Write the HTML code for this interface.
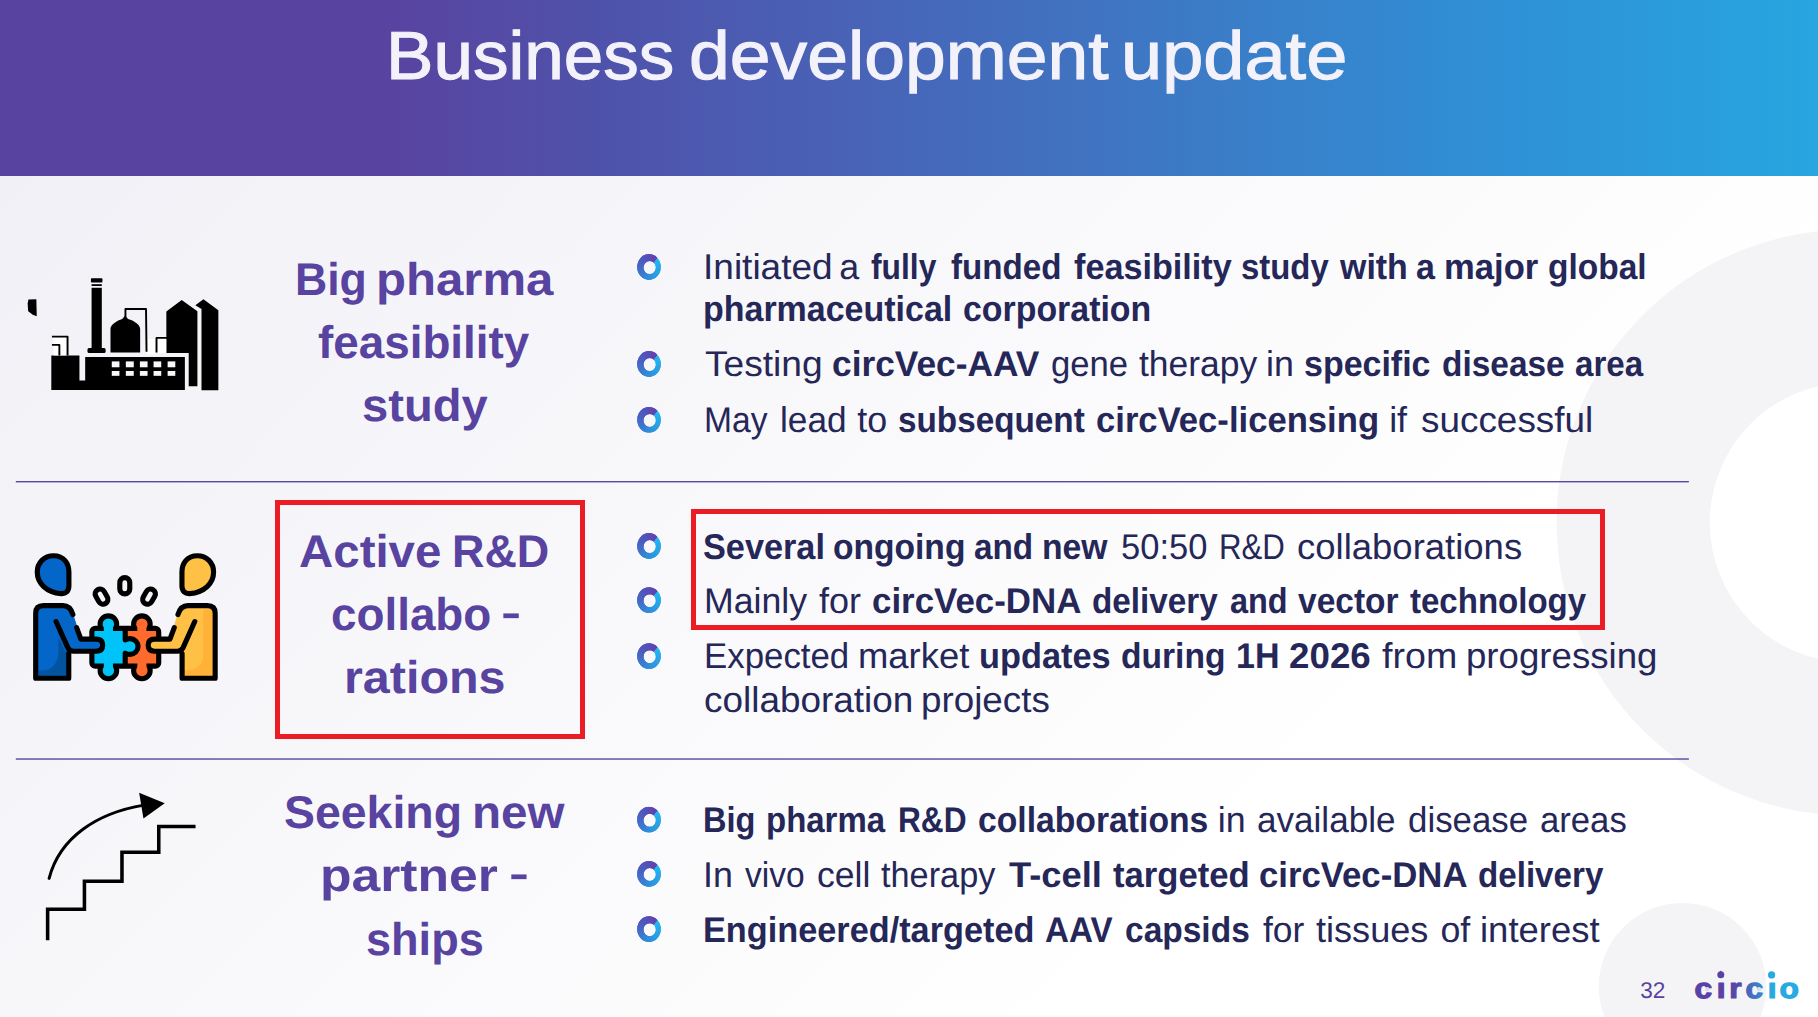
<!DOCTYPE html>
<html lang="en">
<head>
<meta charset="utf-8">
<title>Business development update</title>
<style>
*{box-sizing:border-box;margin:0;padding:0}
html,body{width:1818px;height:1017px;overflow:hidden}
body{position:relative;font-family:"Liberation Sans",sans-serif;text-rendering:geometricPrecision;color:#252758;
 background:linear-gradient(135deg,#f1f0f6 6%,#fcfcfd 60%,#fff 74%)}
.deco{position:absolute;left:0;top:0;width:1818px;height:1017px;pointer-events:none}
header{position:absolute;left:0;top:0;width:1818px;height:176px;
 background:linear-gradient(90deg,#5943a0 0%,#5943a0 21%,#4f52aa 33%,#4766b9 49.5%,#3c7bc6 66%,#2f90d6 82.5%,#27a6e0 100%)}
.t{position:absolute;white-space:pre;transform-origin:0 0;font-weight:400;font-size:68px;line-height:1;color:#f3f1fa;-webkit-text-stroke:1.1px #f3f1fa}
.r{position:absolute;white-space:pre;transform-origin:0 0;font-size:35.8px;line-height:1}
span.r{font-weight:400}
b.r{font-weight:700}
.h{position:absolute;white-space:pre;transform-origin:0 0;font-size:45.8px;line-height:1;font-weight:700;color:#5843a0}
h1,h2{font-size:inherit;font-weight:inherit}
ul{list-style:none}
.box{position:absolute;border:5px solid #ec1c24}
.pg{position:absolute;left:1640.2px;top:979.8px;font-size:22.6px;line-height:1;color:#5843a0}
.logo{position:absolute;left:1690px;top:960px;width:120px;height:50px}
svg{position:absolute;overflow:visible}
</style>
</head>
<body>
<svg class="deco" viewBox="0 0 1818 1017" aria-hidden="true">
 <defs>
  <clipPath id="bc"><path clip-rule="evenodd" d="M-11.8,0 a11.8,12.9 0 1 0 23.6,0 a11.8,12.9 0 1 0 -23.6,0 Z M-5.5,0.6 a6.2,6.5 0 1 0 12.4,0 a6.2,6.5 0 1 0 -12.4,0 Z"/></clipPath>
  <g id="bl"><g clip-path="url(#bc)"><path d="M0.7,0.6L0.70,-23.40L4.25,-23.14L7.72,-22.35Z" fill="#5a4ab4"/><path d="M0.7,0.6L4.04,-23.17L7.52,-22.41L10.84,-21.15Z" fill="#5d48b3"/><path d="M0.7,0.6L7.32,-22.47L10.65,-21.24L13.77,-19.53Z" fill="#6045b2"/><path d="M0.7,0.6L10.46,-21.33L13.60,-19.64L16.45,-17.51Z" fill="#6343b1"/><path d="M0.7,0.6L13.42,-19.75L14.72,-18.88L15.97,-17.92Z" fill="#6641b0"/><path d="M0.7,0.6L15.97,-17.92L18.43,-15.57L20.55,-12.90Z" fill="#1fb7f4"/><path d="M0.7,0.6L18.19,-15.83L20.34,-13.19L22.10,-10.27Z" fill="#21b5f2"/><path d="M0.7,0.6L20.13,-13.48L21.93,-10.59L23.30,-7.47Z" fill="#22b3f1"/><path d="M0.7,0.6L21.76,-10.91L23.18,-7.81L24.14,-4.54Z" fill="#24b0ef"/><path d="M0.7,0.6L23.05,-8.14L24.06,-4.89L24.61,-1.52Z" fill="#25aeed"/><path d="M0.7,0.6L23.98,-5.24L24.57,-1.88L24.68,1.52Z" fill="#27abeb"/><path d="M0.7,0.6L24.53,-2.24L24.69,1.16L24.37,4.56Z" fill="#28a9e9"/><path d="M0.7,0.6L24.70,0.80L24.43,4.20L23.68,7.53Z" fill="#29a7e8"/><path d="M0.7,0.6L24.48,3.85L23.78,7.18L22.62,10.38Z" fill="#29a6e7"/><path d="M0.7,0.6L23.88,6.83L22.76,10.05L21.20,13.08Z" fill="#29a4e6"/><path d="M0.7,0.6L22.90,9.72L21.38,12.77L19.45,15.58Z" fill="#2aa3e5"/><path d="M0.7,0.6L21.56,12.46L19.67,15.30L17.40,17.84Z" fill="#2aa1e4"/><path d="M0.7,0.6L19.89,15.01L17.66,17.59L15.08,19.82Z" fill="#2aa0e3"/><path d="M0.7,0.6L17.91,17.33L15.36,19.60L12.53,21.48Z" fill="#2a9ee3"/><path d="M0.7,0.6L15.65,19.38L12.84,21.30L9.78,22.81Z" fill="#2b9ce1"/><path d="M0.7,0.6L13.15,21.12L10.11,22.68L6.89,23.79Z" fill="#2c99e0"/><path d="M0.7,0.6L10.44,22.53L7.24,23.69L3.90,24.39Z" fill="#2d97df"/><path d="M0.7,0.6L7.58,23.59L4.26,24.33L0.86,24.60Z" fill="#2e94de"/><path d="M0.7,0.6L4.61,24.28L1.22,24.59L-2.18,24.43Z" fill="#2e92dd"/><path d="M0.7,0.6L1.58,24.58L-1.83,24.47L-5.18,23.87Z" fill="#2f8fdc"/><path d="M0.7,0.6L-1.47,24.50L-4.83,23.95L-8.08,22.94Z" fill="#318cda"/><path d="M0.7,0.6L-4.48,24.03L-7.75,23.06L-10.84,21.64Z" fill="#3389d8"/><path d="M0.7,0.6L-7.41,23.19L-10.53,21.81L-13.42,20.01Z" fill="#3586d6"/><path d="M0.7,0.6L-10.21,21.98L-13.13,20.22L-15.77,18.06Z" fill="#3682d4"/><path d="M0.7,0.6L-12.83,20.42L-15.50,18.31L-17.85,15.83Z" fill="#387fd2"/><path d="M0.7,0.6L-15.23,18.55L-17.62,16.11L-19.63,13.36Z" fill="#3a7cd0"/><path d="M0.7,0.6L-17.38,16.38L-19.43,13.66L-21.08,10.68Z" fill="#3c79ce"/><path d="M0.7,0.6L-19.24,13.96L-20.93,11.00L-22.18,7.84Z" fill="#3e76cd"/><path d="M0.7,0.6L-20.77,11.33L-22.07,8.18L-22.92,4.88Z" fill="#4073cb"/><path d="M0.7,0.6L-21.96,8.52L-22.85,5.23L-23.27,1.85Z" fill="#4270c9"/><path d="M0.7,0.6L-22.78,5.58L-23.25,2.21L-23.23,-1.20Z" fill="#446dc8"/><path d="M0.7,0.6L-23.22,2.56L-23.26,-0.84L-22.81,-4.22Z" fill="#4669c6"/><path d="M0.7,0.6L-23.28,-0.48L-22.88,-3.87L-22.01,-7.16Z" fill="#4767c5"/><path d="M0.7,0.6L-22.94,-3.52L-22.12,-6.82L-20.84,-9.98Z" fill="#4964c3"/><path d="M0.7,0.6L-22.23,-6.48L-21.00,-9.66L-19.33,-12.63Z" fill="#4a62c2"/><path d="M0.7,0.6L-21.15,-9.33L-19.52,-12.33L-17.49,-15.06Z" fill="#4c60c0"/><path d="M0.7,0.6L-19.71,-12.02L-17.72,-14.78L-15.36,-17.24Z" fill="#4d5dbf"/><path d="M0.7,0.6L-17.95,-14.51L-15.62,-17.00L-12.96,-19.13Z" fill="#4f5bbd"/><path d="M0.7,0.6L-15.88,-16.75L-13.26,-18.92L-10.35,-20.70Z" fill="#5058bc"/><path d="M0.7,0.6L-13.55,-18.71L-10.67,-20.54L-7.56,-21.93Z" fill="#5256bb"/><path d="M0.7,0.6L-10.99,-20.36L-7.90,-21.81L-4.64,-22.80Z" fill="#5353ba"/><path d="M0.7,0.6L-8.23,-21.68L-4.99,-22.72L-1.63,-23.29Z" fill="#5551b8"/><path d="M0.7,0.6L-5.34,-22.63L-1.99,-23.25L1.42,-23.39Z" fill="#574fb7"/><path d="M0.7,0.6L-2.34,-23.21L1.06,-23.40L4.45,-23.10Z" fill="#584cb6"/></g></g>
 </defs>
 <circle cx="1849.6" cy="522.6" r="216.4" fill="none" stroke="#f4f4f7" stroke-width="153.2"/>
 <circle cx="1682.5" cy="986.6" r="83.7" fill="#f4f4f7"/>
 <rect x="15.8" y="481.05" width="1673.1" height="1.35" fill="#54409e"/>
 <rect x="15.8" y="758.35" width="1673.1" height="1.35" fill="#54409e"/>
 <use href="#bl" x="649" y="267.0"/>
 <use href="#bl" x="649" y="364.0"/>
 <use href="#bl" x="649" y="419.8"/>
 <use href="#bl" x="649" y="546.0"/>
 <use href="#bl" x="649" y="600.1"/>
 <use href="#bl" x="649" y="656.1"/>
 <use href="#bl" x="649" y="819.7"/>
 <use href="#bl" x="649" y="873.9"/>
 <use href="#bl" x="649" y="929.1"/>
</svg>
<header>
 <h1><span class="t" style="left:386.23px;top:22px;transform:scaleX(1.0449)">Business</span> <span class="t" style="left:688.5px;top:22px;transform:scaleX(1.0775)">development</span> <span class="t" style="left:1121.2px;top:22px;transform:scaleX(1.0882)">update</span></h1>
</header>
<main>
<section>
 <svg style="left:20px;top:270px" width="210" height="130" viewBox="0 0 1643 1017" aria-label="factory">
 <g fill="#000" stroke="none">
  <path d="M66,230 L128,228 L131,362 L100,350 L64,322 L60,262 Z"/>
  <rect x="555" y="64" width="90" height="34" rx="6"/>
  <rect x="560" y="111" width="80" height="14"/>
  <rect x="560" y="139" width="80" height="490"/>
  <rect x="528" y="611" width="142" height="38" rx="12"/>
  <path d="M708,646 V462 C708,428 760,396 800,384 L821,358 L846,384 C890,396 940,428 940,462 V646 Z"/>
  <path d="M1145,650 V325 L1265,235 L1388,322 V910 H1320 V650 Z"/>
  <path d="M1420,940 V305 L1372,275 L1435,228 L1552,315 V940 Z"/>
  <path d="M245,668 H465 V865 H510 V680 H1290 V938 H245 Z"/>
 </g>
 <g fill="#fff">
  <rect x="262" y="530" width="102" height="138"/>
  <rect x="996" y="540" width="66" height="120"/>
  <rect x="1078" y="540" width="66" height="110"/>
 </g>
 <g fill="none" stroke="#000" stroke-width="15" stroke-linejoin="round">
  <path d="M825,376 V305 H986 L990,640"/>
  <path d="M1068,646 V531 H1150"/>
  <path d="M250,521 H372 V668"/>
  <path d="M250,586 H308 V668"/>
 </g>
 <g fill="#f7f7f9">
  <rect x="718" y="715" width="60" height="46"/><rect x="828" y="715" width="62" height="46"/><rect x="938" y="715" width="60" height="46"/><rect x="1045" y="715" width="60" height="46"/><rect x="1155" y="715" width="60" height="46"/>
  <rect x="718" y="790" width="60" height="38"/><rect x="828" y="790" width="62" height="38"/><rect x="938" y="790" width="60" height="38"/><rect x="1045" y="790" width="60" height="38"/><rect x="1155" y="790" width="60" height="38"/>
 </g>
</svg>
 <h2><span class="h" style="left:294.78px;top:257px;letter-spacing:0px;transform:scaleX(0.9735)">Big</span> <span class="h" style="left:375.88px;top:257px;letter-spacing:0px;transform:scaleX(1.0720)">pharma</span> <span class="h" style="left:318.2px;top:320px;letter-spacing:0px;transform:scaleX(1.0001)">feasibility</span> <span class="h" style="left:361.67px;top:383px;letter-spacing:0px;transform:scaleX(1.0290)">study</span></h2>
 <ul>
  <li><span class="r" style="left:702.7px;top:250px;transform:scaleX(1.0343)">Initiated</span> <span class="r" style="left:839.35px;top:250px">a</span> <b class="r" style="left:870.6px;top:250px;transform:scaleX(0.8876)">fully</b> <b class="r" style="left:950.6px;top:250px;transform:scaleX(0.9257)">funded</b> <b class="r" style="left:1073.5px;top:250px;transform:scaleX(0.9551)">feasibility</b> <b class="r" style="left:1240.88px;top:250px;transform:scaleX(0.9190)">study</b> <b class="r" style="left:1340.15px;top:250px;transform:scaleX(0.9475)">with</b> <b class="r" style="left:1416.4px;top:250px;transform:scaleX(0.9500)">a</b> <b class="r" style="left:1443.87px;top:250px;transform:scaleX(0.9670)">major</b> <b class="r" style="left:1547.76px;top:250px;transform:scaleX(0.9360)">global</b> <b class="r" style="left:703.1px;top:292px;transform:scaleX(0.9491)">pharmaceutical</b> <b class="r" style="left:963.35px;top:292px;transform:scaleX(0.9464)">corporation</b></li>
  <li><span class="r" style="left:704.5px;top:347px;transform:scaleX(1.0376)">Testing</span> <b class="r" style="left:832.21px;top:347px;transform:scaleX(0.9863)">circVec-AAV</b> <span class="r" style="left:1050.83px;top:347px;transform:scaleX(0.9688)">gene</span> <span class="r" style="left:1139.2px;top:347px;transform:scaleX(0.9900)">therapy</span> <span class="r" style="left:1265.97px;top:347px">in</span> <b class="r" style="left:1304.35px;top:347px;transform:scaleX(0.9490)">specific</b> <b class="r" style="left:1441.77px;top:347px;transform:scaleX(0.9340)">disease</b> <b class="r" style="left:1575.38px;top:347px;transform:scaleX(0.9248)">area</b></li>
  <li><span class="r" style="left:703.82px;top:403px;transform:scaleX(0.9387)">May</span> <span class="r" style="left:780.13px;top:403px;transform:scaleX(0.9848)">lead</span> <span class="r" style="left:857.33px;top:403px">to</span> <b class="r" style="left:898.37px;top:403px;transform:scaleX(0.9297)">subsequent</b> <b class="r" style="left:1096.33px;top:403px;transform:scaleX(0.9678)">circVec-licensing</b> <span class="r" style="left:1389.17px;top:403px">if</span> <span class="r" style="left:1420.97px;top:403px;transform:scaleX(1.0307)">successful</span></li>
 </ul>
</section>
<section>
 <svg style="left:25px;top:545px" width="200" height="145" viewBox="0 0 1403 1017" aria-label="collaboration">
 <g fill="#000" stroke="#000" stroke-width="72" stroke-linejoin="round">
  <rect x="487" y="603" width="433" height="229" rx="6"/>
  <circle cx="585" cy="555" r="40"/><circle cx="585" cy="880" r="40"/>
  <circle cx="820" cy="555" r="40"/><circle cx="820" cy="880" r="40"/>
  <rect x="553" y="560" width="64" height="320"/><rect x="788" y="560" width="64" height="320"/>
 </g>
 <g fill="#00c3f8">
  <rect x="487" y="603" width="216" height="229" rx="6"/>
  <circle cx="585" cy="555" r="40"/><circle cx="585" cy="880" r="40"/>
  <rect x="553" y="560" width="64" height="320"/>
 </g>
 <g fill="#ff6b2d">
  <rect x="703" y="603" width="217" height="229" rx="6"/>
  <circle cx="820" cy="555" r="40"/><circle cx="820" cy="880" r="40"/>
  <rect x="788" y="560" width="64" height="320"/>
 </g>
 <rect x="690" y="662" width="50" height="100" fill="#00c3f8"/>
 <path d="M703,590 V665 C720,657 728,657 738,657 a55,55 0 1 1 0,110 C728,767 720,767 703,759 V845" fill="#00c3f8" stroke="#000" stroke-width="36" stroke-linecap="butt" stroke-linejoin="round"/>
 <g id="pl">
  <path d="M200,75 C272,75 308,128 308,190 V288 C308,325 286,343 254,341 C150,333 86,268 86,190 C86,125 135,75 200,75 Z" fill="#0466c8" stroke="#000" stroke-width="36" stroke-linejoin="round"/>
  <path d="M75,935 V478 Q75,425 130,425 H268 Q318,425 338,482 L393,660 H500 Q545,660 545,702 Q545,745 500,745 H307 V935 Z" fill="#0466c8"/>
  <path d="M93,880 C190,890 235,830 235,740 V650 L280,745 H300 V917 H93 Z" fill="#03549f"/>
  <g fill="none" stroke="#000" stroke-width="36" stroke-linecap="round" stroke-linejoin="round">
   <path d="M307,762 V935 H75 V478 Q75,425 130,425 H266 Q318,425 336,488"/>
   <path d="M362,580 L392,660 H500 Q545,660 545,702 Q545,745 500,745 H340 Q312,745 300,720 L218,537"/>
  </g>
 </g>
 <g transform="translate(1409,0) scale(-1,1)">
  <path d="M200,75 C272,75 308,128 308,190 V288 C308,325 286,343 254,341 C150,333 86,268 86,190 C86,125 135,75 200,75 Z" fill="#ffc145" stroke="#000" stroke-width="36" stroke-linejoin="round"/>
  <path d="M75,935 V478 Q75,425 130,425 H268 Q318,425 338,482 L393,660 H500 Q545,660 545,702 Q545,745 500,745 H307 V935 Z" fill="#ffc145"/>
  <path d="M93,917 V450 H160 V780 C160,850 220,880 300,880 V917 Z" fill="#ffb237"/>
  <g fill="none" stroke="#000" stroke-width="36" stroke-linecap="round" stroke-linejoin="round">
   <path d="M307,762 V935 H75 V478 Q75,425 130,425 H266 Q318,425 336,488"/>
   <path d="M362,580 L392,660 H500 Q545,660 545,702 Q545,745 500,745 H340 Q312,745 300,720 L218,537"/>
  </g>
 </g>
 <g fill="none" stroke="#000" stroke-width="36">
  <rect x="665" y="229" width="70" height="114" rx="35"/>
  <rect x="503" y="306" width="68" height="112" rx="34" transform="rotate(-30 537 362)"/>
  <rect x="836" y="306" width="68" height="112" rx="34" transform="rotate(30 870 362)"/>
 </g>
</svg>
 <div class="box" style="left:275px;top:500px;width:310px;height:239px"></div>
 <h2><span class="h" style="left:299.16px;top:529px;letter-spacing:0px;transform:scaleX(1.0356)">Active</span> <span class="h" style="left:452.46px;top:529px;letter-spacing:0px;transform:scaleX(0.9806)">R&amp;D</span> <span class="h" style="left:330.5px;top:592px;letter-spacing:0px;transform:scaleX(0.9998)">collabo</span> <span class="h" style="left:500.78px;top:589px;transform-origin:0 27.8px;transform:scale(1.3231,0.86)">-</span> <span class="h" style="left:344.23px;top:655px;letter-spacing:0px;transform:scaleX(1.0579)">rations</span></h2>
 <div class="box" style="left:691px;top:509px;width:914px;height:121px"></div>
 <ul>
  <li><b class="r" style="left:703.44px;top:530px;transform:scaleX(0.9571)">Several</b> <b class="r" style="left:833.06px;top:530px;transform:scaleX(0.9380)">ongoing</b> <b class="r" style="left:973.97px;top:530px;transform:scaleX(0.9297)">and</b> <b class="r" style="left:1041.62px;top:530px;transform:scaleX(0.9414)">new</b> <span class="r" style="left:1120.84px;top:530px;transform:scaleX(0.9638)">50:50</span> <span class="r" style="left:1219.36px;top:530px;transform:scaleX(0.8717)">R&amp;D</span> <span class="r" style="left:1296.98px;top:530px;transform:scaleX(1.0193)">collaborations</span></li>
  <li><span class="r" style="left:703.81px;top:584px;transform:scaleX(0.9966)">Mainly</span> <span class="r" style="left:819.1px;top:584px;transform:scaleX(1.0059)">for</span> <b class="r" style="left:872.33px;top:584px;transform:scaleX(0.9745)">circVec-DNA</b> <b class="r" style="left:1092.07px;top:584px;transform:scaleX(0.9292)">delivery</b> <b class="r" style="left:1230.09px;top:584px;transform:scaleX(0.9066)">and</b> <b class="r" style="left:1298px;top:584px;transform:scaleX(0.9357)">vector</b> <b class="r" style="left:1410.3px;top:584px;transform:scaleX(0.9224)">technology</b></li>
  <li><span class="r" style="left:703.85px;top:639px;transform:scaleX(0.9729)">Expected</span> <span class="r" style="left:857.67px;top:639px;transform:scaleX(1.0172)">market</span> <b class="r" style="left:979.18px;top:639px;transform:scaleX(0.9588)">updates</b> <b class="r" style="left:1121.16px;top:639px;transform:scaleX(0.9375)">during</b> <b class="r" style="left:1235.74px;top:639px;transform:scaleX(0.9500)">1H</b> <b class="r" style="left:1289.07px;top:639px;transform:scaleX(1.0267)">2026</b> <span class="r" style="left:1381.5px;top:639px;transform:scaleX(1.0505)">from</span> <span class="r" style="left:1465.95px;top:639px;transform:scaleX(1.0233)">progressing</span> <span class="r" style="left:703.57px;top:683px;transform:scaleX(1.0311)">collaboration</span> <span class="r" style="left:921.05px;top:683px;transform:scaleX(1.0274)">projects</span></li>
 </ul>
</section>
<section>
 <svg style="left:0;top:770px" width="260" height="190" viewBox="0 0 1392 1017" aria-label="growth steps">
 <path d="M255,912 V745 H452 V595 H653 V440 H850 V302 H1047" fill="none" stroke="#000" stroke-width="19" stroke-linejoin="miter"/>
 <path d="M263,580 C320,360 520,230 770,188" fill="none" stroke="#000" stroke-width="16" stroke-linecap="round"/>
 <path d="M745,122 L882,178 L768,260 Z" fill="#000"/>
</svg>
 <h2><span class="h" style="left:284.29px;top:790px;letter-spacing:0px;transform:scaleX(1.0137)">Seeking</span> <span class="h" style="left:472.49px;top:790px;letter-spacing:0px;transform:scaleX(1.0377)">new</span> <span class="h" style="left:319.82px;top:853px;letter-spacing:0px;transform:scaleX(1.1267)">partner</span> <span class="h" style="left:508.59px;top:850px;transform-origin:0 27.8px;transform:scale(1.3077,0.86)">-</span> <span class="h" style="left:366.42px;top:917px;letter-spacing:0px;transform:scaleX(0.9843)">ships</span></h2>
 <ul>
  <li><b class="r" style="left:703.48px;top:803px;transform:scaleX(0.9090)">Big</b> <b class="r" style="left:766.16px;top:803px;transform:scaleX(0.9206)">pharma</b> <b class="r" style="left:897.53px;top:803px;transform:scaleX(0.8848)">R&amp;D</b> <b class="r" style="left:977.56px;top:803px;transform:scaleX(0.9413)">collaborations</b> <span class="r" style="left:1217.87px;top:803px">in</span> <span class="r" style="left:1256.52px;top:803px;transform:scaleX(0.9800)">available</span> <span class="r" style="left:1407.63px;top:803px;transform:scaleX(0.9739)">disease</span> <span class="r" style="left:1539.93px;top:803px;transform:scaleX(0.9687)">areas</span></li>
  <li><span class="r" style="left:702.98px;top:858px">In</span> <span class="r" style="left:744.9px;top:858px;transform:scaleX(0.9371)">vivo</span> <span class="r" style="left:816.51px;top:858px;transform:scaleX(0.9949)">cell</span> <span class="r" style="left:881.2px;top:858px;transform:scaleX(0.9582)">therapy</span> <b class="r" style="left:1008.8px;top:858px;transform:scaleX(1.0148)">T-cell</b> <b class="r" style="left:1112.8px;top:858px;transform:scaleX(0.9673)">targeted</b> <b class="r" style="left:1258.53px;top:858px;transform:scaleX(0.9703)">circVec-DNA</b> <b class="r" style="left:1477.77px;top:858px;transform:scaleX(0.9262)">delivery</b></li>
  <li><b class="r" style="left:703.39px;top:913px;transform:scaleX(0.9575)">Engineered/targeted</b> <b class="r" style="left:1044.5px;top:913px;transform:scaleX(0.9268)">AAV</b> <b class="r" style="left:1125.06px;top:913px;transform:scaleX(0.9360)">capsids</b> <span class="r" style="left:1262.6px;top:913px;transform:scaleX(0.9892)">for</span> <span class="r" style="left:1315.9px;top:913px;transform:scaleX(1.0089)">tissues</span> <span class="r" style="left:1440.4px;top:913px">of</span> <span class="r" style="left:1480.36px;top:913px;transform:scaleX(1.0195)">interest</span></li>
 </ul>
</section>
</main>
<footer>
 <span class="pg">32</span>
 <svg class="logo" style="left:1690px;top:960px" width="120" height="50" viewBox="0 0 120 50" aria-label="circio">
 <defs><linearGradient id="lg" gradientUnits="userSpaceOnUse" x1="0" y1="0" x2="107.14" y2="0">
  <stop offset="0" stop-color="#5a42a5"/><stop offset="0.33" stop-color="#5a42a5"/><stop offset="0.43" stop-color="#5150ae"/><stop offset="0.47" stop-color="#4a62ba"/><stop offset="0.61" stop-color="#3a88d0"/><stop offset="0.63" stop-color="#27a9e1"/><stop offset="1" stop-color="#27a9e1"/>
 </linearGradient><clipPath id="lc"><rect x="0" y="21.3" width="120" height="30"/></clipPath></defs>
 <g clip-path="url(#lc)"><text transform="scale(1.12,1)" x="3.92 23.96 35.12 49.63 69.45 79.97" y="37.5" font-family="Liberation Sans, sans-serif" font-weight="700" font-size="28.3" fill="url(#lg)" stroke="url(#lg)" stroke-width="1.2" stroke-linejoin="round">circio</text></g>
 <circle cx="30.8" cy="14.8" r="3.5" fill="#5a42a5"/><path d="M29.6,12.2 L30.8,10.6 L32,12.2 Z" fill="#5a42a5"/><circle cx="81.6" cy="14.9" r="3.6" fill="#27a9e1"/>
 <circle cx="17.3" cy="29.2" r="2.2" fill="#ddd8f0"/><circle cx="69" cy="29.2" r="2.2" fill="#d3e0f4"/>
</svg>
</footer>
</body>
</html>
